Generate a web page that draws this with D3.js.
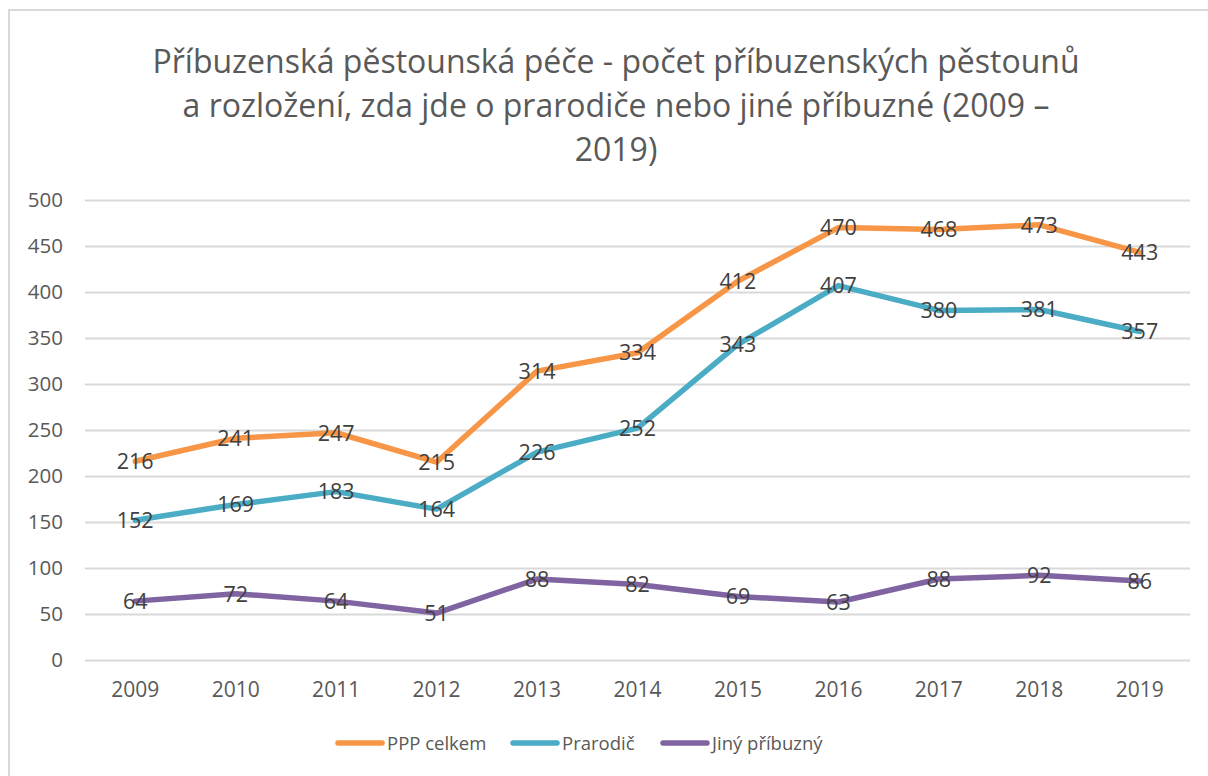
<!DOCTYPE html>
<html><head><meta charset="utf-8">
<script src="https://cdn.jsdelivr.net/npm/d3@7"></script>
<style>body{margin:0;background:#fff}svg{display:block;font-family:"Open Sans",sans-serif}</style>
</head><body><svg id="c" width="1208" height="776"></svg>
<script>
const years = ["2009","2010","2011","2012","2013","2014","2015","2016","2017","2018","2019"];
const pppCelkem = [216,241,247,215,314,334,412,470,468,473,443];
const prarodic = [152,169,183,164,226,252,343,407,380,381,357];
const jinyPribuzny = [64,72,64,51,88,82,69,63,88,92,86];
const yTicks = [0,50,100,150,200,250,300,350,400,450,500];
const seriesNames = ["PPP celkem","Prarodič","Jiný příbuzný"];
const colors = ["#F79646","#4BACC6","#8064A2"];
const titleLines = ["Příbuzenská pěstounská péče - počet příbuzenských pěstounů","a rozložení, zda jde o prarodiče nebo jiné příbuzné (2009 –","2019)"];

const svg = d3.select("#c");
svg.append("rect").attr("x",9).attr("y",10).attr("width",1210).attr("height",780)
  .attr("fill","#fff").attr("stroke","#d9d9d9").attr("stroke-width",2);

const L=85,R=1190,T=200,B=660;
const x = d3.scaleBand().domain(years).range([L,R]);
const y = d3.scaleLinear().domain([0,500]).range([B,T]);

svg.append("g").selectAll("text").data(titleLines).join("text")
  .attr("x",616).attr("y",(d,i)=>73+i*44).attr("text-anchor","middle")
  .attr("font-size",32).attr("fill","#595959").text(d=>d);

const gy = svg.append("g").attr("transform",`translate(${L},0)`)
  .call(d3.axisLeft(y).tickValues(yTicks).tickSize(-(R-L)).tickPadding(22));
gy.select(".domain").remove();
gy.selectAll("line").attr("stroke","#d9d9d9").attr("stroke-width",2);
gy.selectAll("text").attr("font-size",20.5).attr("fill","#595959").attr("font-family","Open Sans");

const gx = svg.append("g").attr("transform",`translate(0,${B})`)
  .call(d3.axisBottom(x).tickSize(0).tickPadding(22));
gx.select(".domain").remove();
gx.selectAll("text").attr("font-size",21).attr("fill","#595959").attr("font-family","Open Sans");

const data = [pppCelkem,prarodic,jinyPribuzny];
const line = d3.line().x((d,i)=>x(years[i])+x.bandwidth()/2).y(d=>y(d));
data.forEach((s,k)=>{
  svg.append("path").datum(s).attr("d",line).attr("fill","none")
    .attr("stroke",colors[k]).attr("stroke-width",5.5).attr("stroke-linejoin","round").attr("stroke-linecap","round");
});
data.forEach((s,k)=>{
  svg.append("g").selectAll("text").data(s).join("text")
    .attr("x",(d,i)=>x(years[i])+x.bandwidth()/2).attr("y",d=>y(d)).attr("dy","0.36em")
    .attr("text-anchor","middle").attr("font-size",21.5).attr("fill","#404040").text(d=>d);
});

const legX=[336,511,661];
const lg = svg.append("g");
seriesNames.forEach((n,k)=>{
  lg.append("line").attr("x1",legX[k]+2).attr("x2",legX[k]+46).attr("y1",743).attr("y2",743)
    .attr("stroke",colors[k]).attr("stroke-width",5.5).attr("stroke-linecap","round");
  lg.append("text").attr("x",legX[k]+51).attr("y",743).attr("dy","0.36em")
    .attr("font-size",18.5).attr("fill","#595959").text(n);
});
</script></body></html>
